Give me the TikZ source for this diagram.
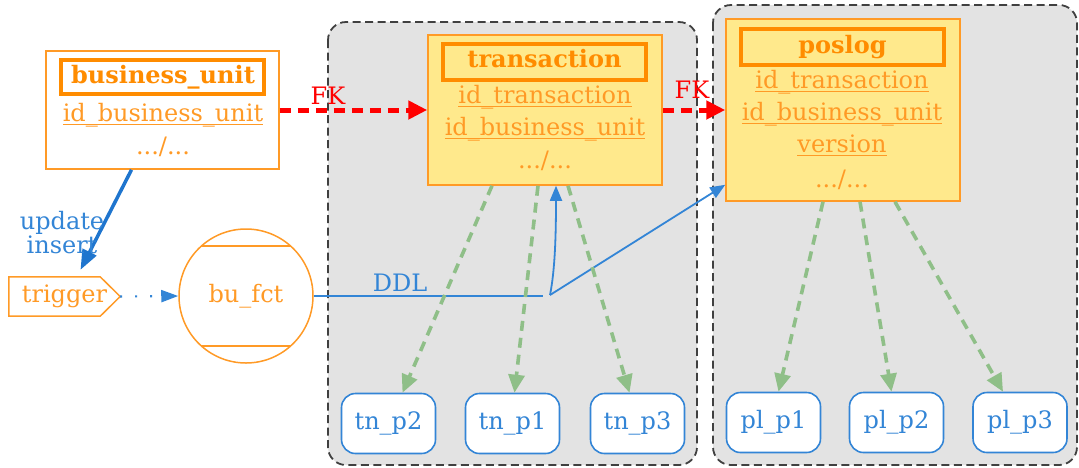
\documentclass[tikz,border=0pt]{standalone}
\usepackage{fontspec}
\setmainfont{DejaVu Serif}
\usetikzlibrary{arrows.meta,calc}
\definecolor{orgA}{HTML}{FF8C00}
\definecolor{orgB}{HTML}{FF9A26}
\definecolor{yel}{HTML}{FFE98C}
\definecolor{clgray}{HTML}{E3E3E3}
\definecolor{blu}{HTML}{3385D6}
\definecolor{bluD}{HTML}{1F75CE}
\definecolor{grn}{HTML}{8FBF88}
\definecolor{fkred}{HTML}{FF0000}
\newcommand\myul[1]{\setbox0\hbox{#1}\rlap{\rule[-3.8pt]{\wd0}{1.1pt}}\box0}
\begin{document}
\begin{tikzpicture}[x=1pt,y=-1pt,
  every node/.style={font=\fontsize{24}{28}\selectfont, inner sep=0pt},
  cluster/.style={draw=black!75, fill=clgray, line width=1.8pt, dash pattern=on 8pt off 4.5pt, rounded corners=18pt},
  tbl/.style={draw=orgB, line width=1.5pt},
  tbly/.style={tbl, fill=yel},
  hdr/.style={draw=orgA, line width=4.5pt, text=orgA, font=\fontsize{24}{28}\selectfont\bfseries},
  fld/.style={text=orgB, anchor=base},
  part/.style={draw=blu, fill=white, line width=1.6pt, rounded corners=14pt, text=blu, minimum height=60, minimum width=94},
  fk/.style={draw=fkred, line width=5pt, dash pattern=on 11pt off 7pt, -{Triangle[length=19pt,width=18pt]}},
  fklab/.style={text=fkred},
  grnarr/.style={draw=grn, line width=3.6pt, dash pattern=on 10pt off 7pt, -{Triangle[length=18pt,width=16pt]}},
  ddl/.style={draw=blu, line width=1.8pt},
  ddlarr/.style={ddl, -{Triangle[length=15pt,width=12pt]}},
]
\useasboundingbox (0,0) rectangle (1079,467);

% clusters
\draw[cluster] (328,22) rectangle (697,465);
\draw[cluster] (713,5) rectangle (1077,465);

% business_unit
\node[tbl, fill=white, minimum width=233, minimum height=118] (bu) at (162.5,110) {};
\node[hdr, minimum width=203, minimum height=34] (buh) at (162.5,77) {};
\node[text=orgA, anchor=base, font=\fontsize{24}{28}\selectfont\bfseries] (buht) at (163,83) {business\_unit};
\node[fld] (bu1) at (163,121) {\myul{id\_business\_unit}};
\node[fld] (bu2) at (163,154) {.../...};

% transaction
\node[tbly, minimum width=234, minimum height=150] (tr) at (545,110) {};
\node[hdr, minimum width=203, minimum height=36] (trh) at (544.5,62) {};
\node[text=orgA, anchor=base, font=\fontsize{24}{28}\selectfont\bfseries] (trht) at (544.5,67) {transaction};
\node[fld] (tr1) at (545,103) {\myul{id\_transaction}};
\node[fld] (tr2) at (545,135) {\myul{id\_business\_unit}};
\node[fld] (tr3) at (545,168) {.../...};

% poslog
\node[tbly, minimum width=234, minimum height=182] (pl) at (843,110) {};
\node[hdr, minimum width=203, minimum height=36] (plh) at (842.5,47) {};
\node[text=orgA, anchor=base, font=\fontsize{24}{28}\selectfont\bfseries] (plht) at (842.5,53) {poslog};
\node[fld] (pl1) at (842,88) {\myul{id\_transaction}};
\node[fld] (pl2) at (842,120) {\myul{id\_business\_unit}};
\node[fld] (pl3) at (842,152) {\myul{version}};
\node[fld] (pl4) at (842,187) {.../...};

% trigger and function
\node[minimum width=111, minimum height=39] (trg) at (64.5,296.5) {};
\draw[orgB, line width=1.5pt, fill=white] (trg.north west) -- ([xshift=-20pt]trg.north east) -- (trg.east)
   -- ([xshift=-20pt]trg.south east) -- (trg.south west) -- cycle;
\node[text=orgB] (trgt) at (trg.center) {trigger};
\node[circle, draw=orgB, line width=1.5pt, fill=white, minimum size=134, text=orgB] (fct) at (246,296) {bu\_fct};
\draw[orgB, line width=1.5pt] ($(fct.center)+(-44.6,-50)$) -- ($(fct.center)+(44.6,-50)$);
\draw[orgB, line width=1.5pt] ($(fct.center)+(-44.6,50)$) -- ($(fct.center)+(44.6,50)$);

% partitions
\node[part] (tn2) at (388.5,423.5) {tn\_p2};
\node[part] (tn1) at (512.5,423.5) {tn\_p1};
\node[part] (tn3) at (637.5,423.5) {tn\_p3};
\node[part] (pp1) at (773.5,422.5) {pl\_p1};
\node[part] (pp2) at (896.5,422.5) {pl\_p2};
\node[part] (pp3) at (1020,422.5) {pl\_p3};

% FK arrows
\draw[fk] (bu.east) -- (tr.west);
\node[fklab] (fk1) at (328,96) {FK};
\draw[fk] (tr.east) -- (pl.west);
\node[fklab] (fk2) at (692,90) {FK};

% update insert
\draw[draw=bluD, line width=3.5pt, -{Triangle[length=20pt,width=15pt]}] ([xshift=-31pt]bu.south) -- ([xshift=16pt,yshift=7pt]trg.north);
\node[text=blu, align=center, font=\fontsize{24}{24}\selectfont] (upd) at (62,233) {update\\insert};

% dotted trigger -> fct
\draw[draw=blu, line width=2.2pt, dash pattern=on 2pt off 13pt, -{Triangle[length=17pt,width=12pt]}] (trg.east) -- (fct.west);

% DDL
\coordinate (ddlend) at (543,296);
\coordinate (jn) at (550,295);
\draw[ddl] (fct.east) -- (ddlend);
\node[text=blu] (ddllab) at (400,283) {DDL};
\draw[ddlarr] (jn) .. controls (555,270) and (556,235) .. ([xshift=11pt]tr.south);
\draw[ddlarr] (jn) -- ([yshift=17pt]pl.south west);

% green partition arrows
\draw[grnarr] ([xshift=-53pt]tr.south) -- ([xshift=14pt]tn2.north);
\draw[grnarr] ([xshift=-7pt]tr.south) -- ([xshift=2pt]tn1.north);
\draw[grnarr] ([xshift=23pt]tr.south) -- ([xshift=-8pt]tn3.north);
\draw[grnarr] ([xshift=-20pt]pl.south) -- ([xshift=5pt]pp1.north);
\draw[grnarr] ([xshift=17pt]pl.south) -- ([xshift=-5pt]pp2.north);
\draw[grnarr] ([xshift=52pt]pl.south) -- ([xshift=-17pt]pp3.north);
\end{tikzpicture}
\end{document}
